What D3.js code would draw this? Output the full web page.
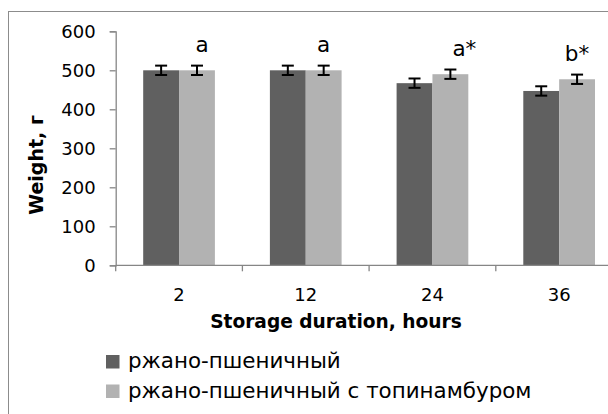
<!DOCTYPE html>
<html>
<head>
<meta charset="utf-8">
<script src="https://cdn.jsdelivr.net/npm/d3@7/dist/d3.min.js"></script>
<style>
  html, body { margin: 0; padding: 0; background: #fff; }
  svg { display: block; }
  text { font-family: "DejaVu Sans", sans-serif; fill: #000; }
</style>
</head>
<body>
<svg id="chart" width="608" height="414"></svg>
<script>
// ---- data ----
const categories = ["2", "12", "24", "36"];
const seriesNames = ["ржано-пшеничный", "ржано-пшеничный с топинамбуром"];
const seriesA = [500, 500, 467, 447];   // ржано-пшеничный
const seriesB = [500, 500, 490, 477];   // ржано-пшеничный с топинамбуром
const errorsA = [12, 12, 12, 12];
const errorsB = [12, 12, 12, 12];
const significance = ["a", "a", "a*", "b*"];
const yTicks = [0, 100, 200, 300, 400, 500, 600];
const xTitle = "Storage duration, hours";
const yTitle = "Weight, г";

// ---- layout ----
const W = 608, H = 414;
const plot = { left: 115.7, right: 622.5, top: 31.3, bottom: 265.3 };
const colors = ["#606060", "#b2b2b2"];
const axisColor = "#868686";
const labelNudge = [5, 0, 14, 0];

const svg = d3.select("#chart");

// chart frame (extends beyond the visible window)
svg.append("rect")
  .attr("x", 8.5).attr("y", 11.5)
  .attr("width", 700).attr("height", 500)
  .attr("fill", "none").attr("stroke", "#8c8c8c").attr("stroke-width", 1);

const x0 = d3.scaleBand().domain(categories)
  .range([plot.left, plot.right]).paddingInner(0.434).paddingOuter(0.217);
const x1 = d3.scaleBand().domain([0, 1]).range([0, x0.bandwidth()]);
const y = d3.scaleLinear().domain([0, 600]).range([plot.bottom, plot.top]);

const rows = categories.map((c, i) => ({
  cat: c,
  vals: [
    { s: 0, v: seriesA[i], e: errorsA[i] },
    { s: 1, v: seriesB[i], e: errorsB[i] }
  ],
  label: significance[i],
  idx: i
}));

// bars
const groups = svg.append("g").selectAll("g").data(rows).join("g")
  .attr("transform", d => `translate(${x0(d.cat)},0)`);

groups.selectAll("rect").data(d => d.vals).join("rect")
  .attr("x", d => x1(d.s))
  .attr("y", d => y(d.v))
  .attr("width", x1.bandwidth())
  .attr("height", d => y(0) - y(d.v))
  .attr("fill", d => colors[d.s]);

// error bars
const capHalf = 6;
const eb = groups.selectAll("g.err").data(d => d.vals).join("g").attr("class", "err")
  .attr("stroke", "#000").attr("stroke-width", 2);
eb.append("line")
  .attr("x1", d => x1(d.s) + x1.bandwidth() / 2).attr("x2", d => x1(d.s) + x1.bandwidth() / 2)
  .attr("y1", d => y(d.v + d.e)).attr("y2", d => y(d.v - d.e));
eb.append("line")
  .attr("x1", d => x1(d.s) + x1.bandwidth() / 2 - capHalf).attr("x2", d => x1(d.s) + x1.bandwidth() / 2 + capHalf)
  .attr("y1", d => y(d.v + d.e)).attr("y2", d => y(d.v + d.e));
eb.append("line")
  .attr("x1", d => x1(d.s) + x1.bandwidth() / 2 - capHalf).attr("x2", d => x1(d.s) + x1.bandwidth() / 2 + capHalf)
  .attr("y1", d => y(d.v - d.e)).attr("y2", d => y(d.v - d.e));

// significance labels above the second bar
groups.append("text")
  .attr("x", d => x1(1) + x1.bandwidth() / 2 + labelNudge[d.idx])
  .attr("y", d => y(d.vals[1].v) - 18.5)
  .attr("text-anchor", "middle")
  .style("font-size", "21.5px")
  .text(d => d.label);

// y axis
const yAxis = svg.append("g")
  .attr("transform", `translate(${plot.left},0)`)
  .call(d3.axisLeft(y).tickValues(yTicks).tickSize(6).tickPadding(14).tickFormat(d3.format("d")));
yAxis.select(".domain").attr("stroke", axisColor).attr("stroke-width", 1.3);
yAxis.selectAll(".tick line").attr("stroke", axisColor).attr("stroke-width", 1.3);
yAxis.selectAll(".tick text").style("font-size", "18px").attr("font-family", "DejaVu Sans").attr("fill", "#000");

// x axis (boundaries ticks between categories)
const xAxis = svg.append("g")
  .attr("transform", `translate(0,${plot.bottom})`)
  .call(d3.axisBottom(x0).tickSize(0).tickPadding(23));
xAxis.select(".domain").remove();
xAxis.selectAll(".tick text").style("font-size", "18px").attr("font-family", "DejaVu Sans").attr("fill", "#000");
svg.append("line")
  .attr("x1", plot.left).attr("x2", plot.right)
  .attr("y1", plot.bottom).attr("y2", plot.bottom)
  .attr("stroke", axisColor).attr("stroke-width", 1.3);
const boundaries = categories.map((c, i) => i === 0 ? x0(c) - x0.step() * x0.paddingOuter() : x0(c) - x0.step() * x0.paddingInner() / 2);
svg.append("g").selectAll("line").data(boundaries).join("line")
  .attr("x1", d => d).attr("x2", d => d)
  .attr("y1", plot.bottom).attr("y2", plot.bottom + 6)
  .attr("stroke", axisColor).attr("stroke-width", 1.3);

// axis titles
svg.append("text")
  .attr("x", 336).attr("y", 327.5)
  .attr("text-anchor", "middle")
  .style("font-size", "18.6px").style("font-weight", "bold")
  .text(xTitle);

svg.append("text")
  .attr("transform", "translate(43,165) rotate(-90)")
  .attr("text-anchor", "middle")
  .style("font-size", "19px").style("font-weight", "bold")
  .text(yTitle);

// legend
const legend = svg.append("g").selectAll("g").data(seriesNames).join("g")
  .attr("transform", (d, i) => `translate(106,${355 + i * 29.5})`);
legend.append("rect").attr("width", 13.5).attr("height", 13.5)
  .attr("fill", (d, i) => colors[i]);
legend.append("text").attr("x", 22).attr("y", 13)
  .style("font-size", "21.4px")
  .text(d => d);
</script>
</body>
</html>
